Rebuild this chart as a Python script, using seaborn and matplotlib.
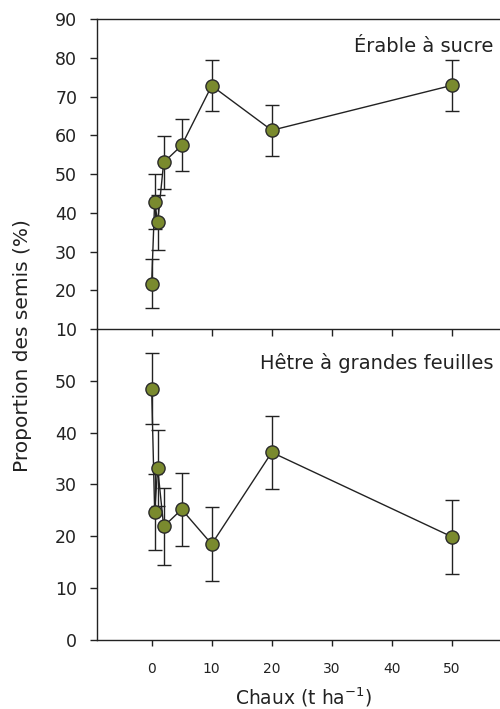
import numpy as np
import pandas as pd
import matplotlib
matplotlib.use("Agg")
import matplotlib.pyplot as plt
import seaborn as sns

# Data
chaux = [0, 0.5, 1, 2, 5, 10, 20, 50]
erable = [21.7, 42.9, 37.5, 53.0, 57.4, 72.8, 61.3, 72.9]
erable_err = [6.3, 7.0, 7.0, 6.9, 6.7, 6.6, 6.6, 6.6]
hetre = [48.5, 24.7, 33.2, 21.9, 25.2, 18.5, 36.2, 19.9]
hetre_err = [6.8, 7.4, 7.4, 7.4, 7.1, 7.1, 7.1, 7.1]
xticks = [0, 10, 20, 30, 40, 50]
yticks_top = [10, 20, 30, 40, 50, 60, 70, 80, 90]
yticks_bot = [0, 10, 20, 30, 40, 50]

sns.set_style("ticks")
plt.rcParams['font.family'] = ['DejaVu Sans']
plt.rcParams['axes.linewidth'] = 1.0

fig = plt.figure(figsize=(5.0, 7.09), dpi=100)
ax2 = fig.add_axes([0.194, 0.0973, 0.806, 0.4387])
ax1 = fig.add_axes([0.194, 0.536, 0.806, 0.437])
ax1.set_zorder(3)
ax2.set_zorder(1)
ax1.patch.set_visible(False)
ax2.patch.set_visible(False)

fill = "#7a8a2e"
edge = "#2a2a2a"
linec = "#222222"

def draw(ax, y, err):
    df = pd.DataFrame({"x": chaux, "y": y})
    ax.errorbar(chaux, y, yerr=err, fmt="none", ecolor=linec, elinewidth=1.0,
                capsize=5, capthick=1.0, zorder=2)
    sns.lineplot(data=df, x="x", y="y", ax=ax, color=linec, linewidth=1.0,
                 sort=False, zorder=3)
    sns.scatterplot(data=df, x="x", y="y", ax=ax, color=fill, edgecolor=edge,
                    linewidth=1.0, s=90, zorder=4)
    ax.set_xlim(-9.1, 58)
    ax.set_xlabel("")
    ax.set_ylabel("")

draw(ax1, erable, erable_err)
draw(ax2, hetre, hetre_err)

# top panel
ax1.set_ylim(10, 90)
ax1.set_yticks(yticks_top)
ax1.set_xticks(xticks)
ax1.tick_params(axis="x", direction="out", length=5.3, width=1, labelbottom=False, colors="#222222")
ax1.tick_params(axis="y", direction="out", length=5.3, width=1, pad=9, labelsize=12.5, colors="#222222")
ax1.spines["right"].set_visible(False)
for s in ["left", "top", "bottom"]:
    ax1.spines[s].set_color("#222222")

# bottom panel
ax2.set_ylim(0, 60)
ax2.set_yticks(yticks_bot)
ax2.set_xticks(xticks)
ax2.tick_params(axis="x", direction="out", length=4.5, width=1, labelsize=10, pad=11.5, colors="#222222")
ax2.tick_params(axis="y", direction="out", length=5.3, width=1, pad=9, labelsize=12.5, colors="#222222")
ax2.spines["right"].set_visible(False)
ax2.spines["top"].set_visible(False)
for s in ["left", "bottom"]:
    ax2.spines[s].set_color("#222222")

fig.text(0.986, 0.935, "Érable à sucre", ha="right", va="center", fontsize=14, color="#222222")
fig.text(0.986, 0.488, "Hêtre à grandes feuilles", ha="right", va="center", fontsize=14, color="#222222")
fig.text(0.046, 0.512, "Proportion des semis (%)", rotation=90, ha="center", va="center",
         fontsize=14.5, color="#222222")
fig.text(0.608, 0.017, "Chaux (t ha$^{-1}$)", ha="center", va="center", fontsize=13.5, color="#222222")

fig.savefig("out.png", dpi=100)
